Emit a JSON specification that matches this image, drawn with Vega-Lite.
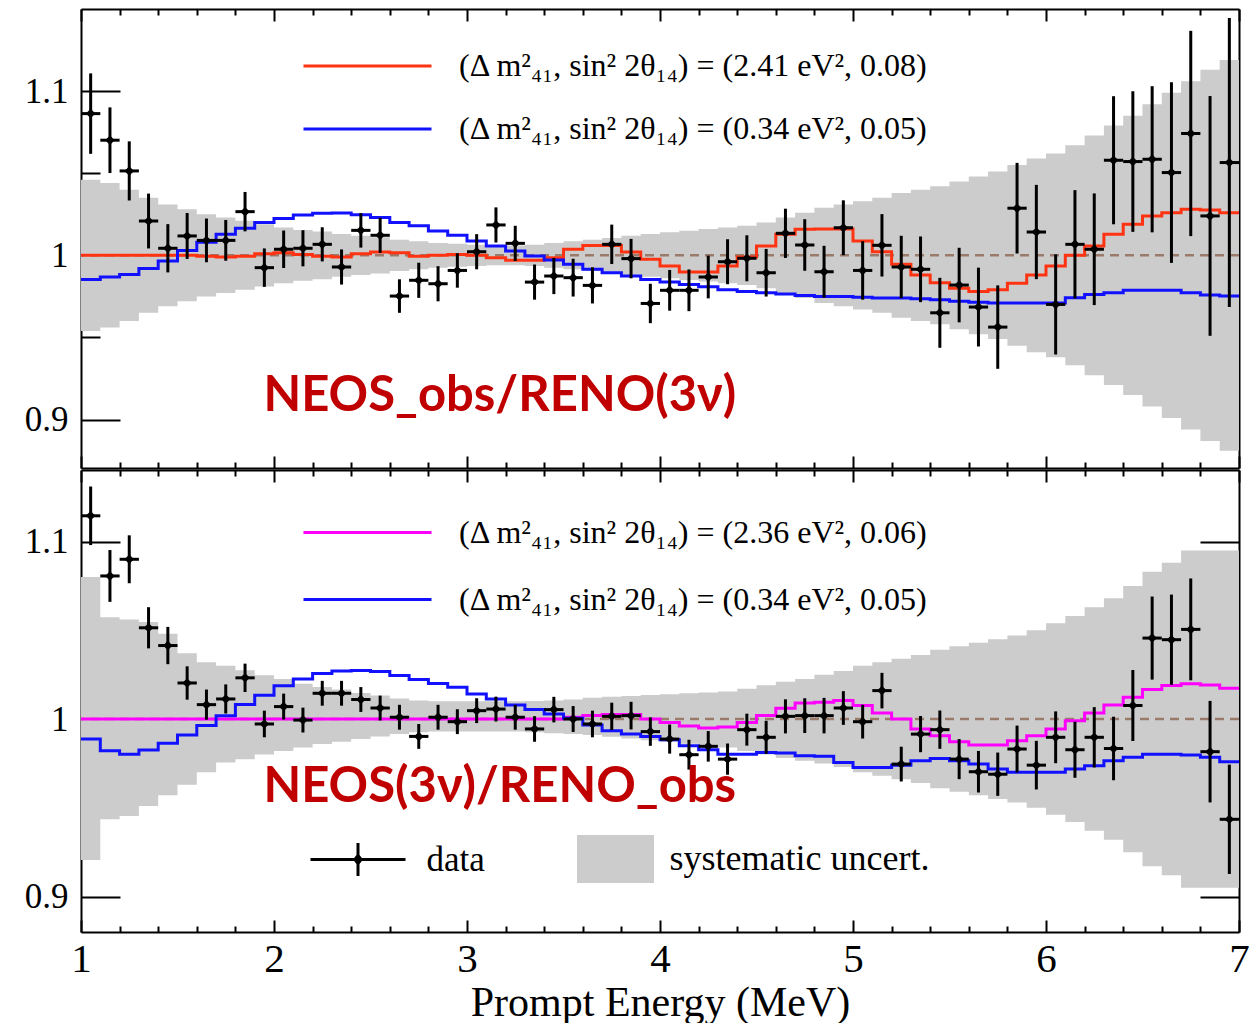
{
"$schema": "https://vega.github.io/schema/vega-lite/v6.json",
"background": "white",
"padding": {"left": 24, "top": 8, "right": 5, "bottom": 0},
"spacing": 0,
"datasets": {
"top_hist": [
{"e":1.0,"lo":0.954,"hi":1.046,"r":1.0,"b":0.9853},
{"e":1.1,"lo":0.956,"hi":1.044,"r":1.0,"b":0.9868},
{"e":1.2,"lo":0.96,"hi":1.04,"r":1.0,"b":0.9884},
{"e":1.3,"lo":0.965,"hi":1.035,"r":1.0,"b":0.992},
{"e":1.4,"lo":0.969,"hi":1.031,"r":1.0,"b":0.9965},
{"e":1.5,"lo":0.972,"hi":1.028,"r":1.0,"b":1.003},
{"e":1.6,"lo":0.975,"hi":1.025,"r":0.9995,"b":1.008},
{"e":1.7,"lo":0.977,"hi":1.023,"r":0.999,"b":1.0128},
{"e":1.8,"lo":0.979,"hi":1.021,"r":0.9995,"b":1.0165},
{"e":1.9,"lo":0.981,"hi":1.019,"r":1.001,"b":1.02},
{"e":2.0,"lo":0.983,"hi":1.017,"r":1.0015,"b":1.0225},
{"e":2.1,"lo":0.9845,"hi":1.0155,"r":1.0005,"b":1.0245},
{"e":2.2,"lo":0.9855,"hi":1.0145,"r":0.9995,"b":1.0257},
{"e":2.3,"lo":0.987,"hi":1.013,"r":0.999,"b":1.0258},
{"e":2.4,"lo":0.988,"hi":1.012,"r":1.001,"b":1.0247},
{"e":2.5,"lo":0.989,"hi":1.011,"r":1.002,"b":1.023},
{"e":2.6,"lo":0.9905,"hi":1.0095,"r":1.0015,"b":1.02},
{"e":2.7,"lo":0.9915,"hi":1.0085,"r":0.9995,"b":1.018},
{"e":2.8,"lo":0.9925,"hi":1.0075,"r":1.0,"b":1.0148},
{"e":2.9,"lo":0.993,"hi":1.007,"r":1.0005,"b":1.0122},
{"e":3.0,"lo":0.9935,"hi":1.0065,"r":1.0,"b":1.0087},
{"e":3.1,"lo":0.994,"hi":1.006,"r":0.9985,"b":1.0057},
{"e":3.2,"lo":0.994,"hi":1.006,"r":0.997,"b":1.0026},
{"e":3.3,"lo":0.9935,"hi":1.0065,"r":0.997,"b":0.9996},
{"e":3.4,"lo":0.9925,"hi":1.0075,"r":0.9985,"b":0.9971},
{"e":3.5,"lo":0.9915,"hi":1.0085,"r":1.0037,"b":0.9945},
{"e":3.6,"lo":0.9905,"hi":1.0095,"r":1.006,"b":0.9915},
{"e":3.7,"lo":0.9895,"hi":1.0105,"r":1.006,"b":0.9894},
{"e":3.8,"lo":0.988,"hi":1.012,"r":1.002,"b":0.9874},
{"e":3.9,"lo":0.987,"hi":1.013,"r":0.9976,"b":0.9853},
{"e":4.0,"lo":0.986,"hi":1.014,"r":0.9935,"b":0.9837},
{"e":4.1,"lo":0.985,"hi":1.015,"r":0.9898,"b":0.9823},
{"e":4.2,"lo":0.984,"hi":1.016,"r":0.9898,"b":0.9809},
{"e":4.3,"lo":0.983,"hi":1.017,"r":0.9935,"b":0.979},
{"e":4.4,"lo":0.982,"hi":1.018,"r":0.999,"b":0.978},
{"e":4.5,"lo":0.98,"hi":1.02,"r":1.0057,"b":0.9772},
{"e":4.6,"lo":0.977,"hi":1.023,"r":1.0128,"b":0.9765},
{"e":4.7,"lo":0.974,"hi":1.026,"r":1.0159,"b":0.9755},
{"e":4.8,"lo":0.971,"hi":1.029,"r":1.016,"b":0.975},
{"e":4.9,"lo":0.969,"hi":1.031,"r":1.016,"b":0.975},
{"e":5.0,"lo":0.967,"hi":1.033,"r":1.0087,"b":0.9745},
{"e":5.1,"lo":0.965,"hi":1.035,"r":1.0022,"b":0.974},
{"e":5.2,"lo":0.962,"hi":1.038,"r":0.9945,"b":0.974},
{"e":5.3,"lo":0.96,"hi":1.04,"r":0.988,"b":0.9735},
{"e":5.4,"lo":0.958,"hi":1.042,"r":0.9833,"b":0.973},
{"e":5.5,"lo":0.955,"hi":1.045,"r":0.98,"b":0.972},
{"e":5.6,"lo":0.952,"hi":1.048,"r":0.978,"b":0.9715},
{"e":5.7,"lo":0.949,"hi":1.051,"r":0.979,"b":0.971},
{"e":5.8,"lo":0.945,"hi":1.055,"r":0.983,"b":0.971},
{"e":5.9,"lo":0.941,"hi":1.059,"r":0.988,"b":0.971},
{"e":6.0,"lo":0.938,"hi":1.062,"r":0.9935,"b":0.971},
{"e":6.1,"lo":0.933,"hi":1.067,"r":1.0,"b":0.9742},
{"e":6.2,"lo":0.927,"hi":1.073,"r":1.0057,"b":0.9762},
{"e":6.3,"lo":0.921,"hi":1.079,"r":1.0128,"b":0.9772},
{"e":6.4,"lo":0.915,"hi":1.085,"r":1.019,"b":0.9787},
{"e":6.5,"lo":0.908,"hi":1.092,"r":1.024,"b":0.9787},
{"e":6.6,"lo":0.901,"hi":1.099,"r":1.026,"b":0.9787},
{"e":6.7,"lo":0.894,"hi":1.106,"r":1.028,"b":0.9772},
{"e":6.8,"lo":0.887,"hi":1.113,"r":1.0276,"b":0.9758},
{"e":6.9,"lo":0.881,"hi":1.119,"r":1.026,"b":0.9752},
{"e":7.0,"lo":0.881,"hi":1.119,"r":1.026,"b":0.9752}
],
"top_pts": [
{"E":1.05,"v":1.0863,"err":0.0245},{"E":1.15,"v":1.0701,"err":0.02},{"E":1.25,"v":1.0514,"err":0.018},{"E":1.35,"v":1.0209,"err":0.0167},{"E":1.45,"v":1.0043,"err":0.0147},
{"E":1.55,"v":1.0118,"err":0.014},{"E":1.65,"v":1.0091,"err":0.0133},{"E":1.75,"v":1.0091,"err":0.0124},{"E":1.85,"v":1.0266,"err":0.012},{"E":1.95,"v":0.9925,"err":0.0117},
{"E":2.05,"v":1.0037,"err":0.0114},{"E":2.15,"v":1.0043,"err":0.011},{"E":2.25,"v":1.0067,"err":0.0104},{"E":2.35,"v":0.9929,"err":0.0107},{"E":2.45,"v":1.0152,"err":0.0105},
{"E":2.55,"v":1.0122,"err":0.0107},{"E":2.65,"v":0.9752,"err":0.0102},{"E":2.75,"v":0.9848,"err":0.0107},{"E":2.85,"v":0.9827,"err":0.0107},{"E":2.95,"v":0.9908,"err":0.0105},
{"E":3.05,"v":1.0022,"err":0.0107},{"E":3.15,"v":1.0185,"err":0.0107},{"E":3.25,"v":1.0073,"err":0.0107},{"E":3.35,"v":0.9837,"err":0.0107},{"E":3.45,"v":0.9874,"err":0.011},
{"E":3.55,"v":0.9864,"err":0.0115},{"E":3.65,"v":0.9817,"err":0.011},{"E":3.75,"v":1.0067,"err":0.012},{"E":3.85,"v":0.998,"err":0.012},{"E":3.95,"v":0.9707,"err":0.012},
{"E":4.05,"v":0.9787,"err":0.0124},{"E":4.15,"v":0.9787,"err":0.0127},{"E":4.25,"v":0.9868,"err":0.013},{"E":4.35,"v":0.9961,"err":0.0137},{"E":4.45,"v":0.9982,"err":0.014},
{"E":4.55,"v":0.9894,"err":0.0145},{"E":4.65,"v":1.0134,"err":0.015},{"E":4.75,"v":1.0063,"err":0.0157},{"E":4.85,"v":0.99,"err":0.0158},{"E":4.95,"v":1.0168,"err":0.0167},
{"E":5.05,"v":0.9908,"err":0.0178},{"E":5.15,"v":1.0061,"err":0.019},{"E":5.25,"v":0.9929,"err":0.019},{"E":5.35,"v":0.9915,"err":0.02},{"E":5.45,"v":0.965,"err":0.0213},
{"E":5.55,"v":0.9819,"err":0.0227},{"E":5.65,"v":0.9685,"err":0.024},{"E":5.75,"v":0.9563,"err":0.0254},{"E":5.85,"v":1.0287,"err":0.0276},{"E":5.95,"v":1.0142,"err":0.0287},
{"E":6.05,"v":0.9701,"err":0.0305},{"E":6.15,"v":1.0067,"err":0.033},{"E":6.25,"v":1.0037,"err":0.034},{"E":6.35,"v":1.0579,"err":0.039},{"E":6.45,"v":1.0571,"err":0.0428},
{"E":6.55,"v":1.0585,"err":0.0445},{"E":6.65,"v":1.0504,"err":0.055},{"E":6.75,"v":1.0742,"err":0.0625},{"E":6.85,"v":1.024,"err":0.073},{"E":6.95,"v":1.0565,"err":0.088}
],
"bot_hist": [
{"e":1.0,"lo":0.9205,"hi":1.08,"m":1.0,"b":0.9887},
{"e":1.1,"lo":0.9435,"hi":1.0574,"m":1.0,"b":0.9821},
{"e":1.2,"lo":0.9454,"hi":1.056,"m":1.0,"b":0.9802},
{"e":1.3,"lo":0.951,"hi":1.0546,"m":1.0,"b":0.9825},
{"e":1.4,"lo":0.957,"hi":1.048,"m":1.0,"b":0.9863},
{"e":1.5,"lo":0.963,"hi":1.037,"m":1.0,"b":0.991},
{"e":1.6,"lo":0.97,"hi":1.032,"m":1.0,"b":0.9964},
{"e":1.7,"lo":0.9755,"hi":1.03,"m":1.0,"b":1.0019},
{"e":1.8,"lo":0.9774,"hi":1.0275,"m":1.0,"b":1.0082},
{"e":1.9,"lo":0.98,"hi":1.0247,"m":1.0,"b":1.0134},
{"e":2.0,"lo":0.982,"hi":1.0226,"m":1.0,"b":1.0187},
{"e":2.1,"lo":0.984,"hi":1.0198,"m":1.0,"b":1.0226},
{"e":2.2,"lo":0.9859,"hi":1.018,"m":1.0,"b":1.0257},
{"e":2.3,"lo":0.9872,"hi":1.0166,"m":1.0,"b":1.027},
{"e":2.4,"lo":0.9887,"hi":1.0147,"m":1.0,"b":1.0273},
{"e":2.5,"lo":0.9902,"hi":1.0132,"m":1.0,"b":1.0268},
{"e":2.6,"lo":0.9915,"hi":1.0115,"m":1.0,"b":1.0245},
{"e":2.7,"lo":0.9925,"hi":1.0105,"m":1.0,"b":1.0223},
{"e":2.8,"lo":0.993,"hi":1.01,"m":1.0,"b":1.02},
{"e":2.9,"lo":0.993,"hi":1.01,"m":1.0,"b":1.0179},
{"e":3.0,"lo":0.993,"hi":1.01,"m":1.0,"b":1.0141},
{"e":3.1,"lo":0.993,"hi":1.01,"m":1.0,"b":1.0113},
{"e":3.2,"lo":0.993,"hi":1.01,"m":1.0,"b":1.0079},
{"e":3.3,"lo":0.9925,"hi":1.0102,"m":1.0,"b":1.0053},
{"e":3.4,"lo":0.992,"hi":1.0105,"m":1.0,"b":1.0028},
{"e":3.5,"lo":0.9915,"hi":1.011,"m":1.001,"b":1.0004},
{"e":3.6,"lo":0.991,"hi":1.012,"m":1.002,"b":0.9966},
{"e":3.7,"lo":0.99,"hi":1.0125,"m":1.0025,"b":0.9934},
{"e":3.8,"lo":0.989,"hi":1.013,"m":1.0025,"b":0.9915},
{"e":3.9,"lo":0.988,"hi":1.0135,"m":1.0,"b":0.9902},
{"e":4.0,"lo":0.987,"hi":1.014,"m":0.998,"b":0.9883},
{"e":4.1,"lo":0.986,"hi":1.0145,"m":0.996,"b":0.985},
{"e":4.2,"lo":0.985,"hi":1.015,"m":0.995,"b":0.9827},
{"e":4.3,"lo":0.984,"hi":1.0155,"m":0.9955,"b":0.9802},
{"e":4.4,"lo":0.982,"hi":1.017,"m":0.998,"b":0.9802},
{"e":4.5,"lo":0.98,"hi":1.019,"m":1.002,"b":0.9812},
{"e":4.6,"lo":0.978,"hi":1.021,"m":1.006,"b":0.9808},
{"e":4.7,"lo":0.9765,"hi":1.0225,"m":1.009,"b":0.9793},
{"e":4.8,"lo":0.975,"hi":1.025,"m":1.0095,"b":0.979},
{"e":4.9,"lo":0.973,"hi":1.027,"m":1.0104,"b":0.9755},
{"e":5.0,"lo":0.97,"hi":1.03,"m":1.0076,"b":0.9727},
{"e":5.1,"lo":0.968,"hi":1.032,"m":1.0034,"b":0.9727},
{"e":5.2,"lo":0.966,"hi":1.034,"m":1.0,"b":0.974},
{"e":5.3,"lo":0.964,"hi":1.036,"m":0.9944,"b":0.9765},
{"e":5.4,"lo":0.961,"hi":1.039,"m":0.9906,"b":0.9778},
{"e":5.5,"lo":0.959,"hi":1.041,"m":0.9872,"b":0.9765},
{"e":5.6,"lo":0.957,"hi":1.043,"m":0.9853,"b":0.9746},
{"e":5.7,"lo":0.955,"hi":1.045,"m":0.9853,"b":0.9718},
{"e":5.8,"lo":0.953,"hi":1.047,"m":0.9878,"b":0.97},
{"e":5.9,"lo":0.95,"hi":1.05,"m":0.9906,"b":0.97},
{"e":6.0,"lo":0.946,"hi":1.054,"m":0.9944,"b":0.97},
{"e":6.1,"lo":0.942,"hi":1.058,"m":0.999,"b":0.9718},
{"e":6.2,"lo":0.937,"hi":1.063,"m":1.0034,"b":0.9737},
{"e":6.3,"lo":0.932,"hi":1.068,"m":1.0079,"b":0.9765},
{"e":6.4,"lo":0.925,"hi":1.075,"m":1.0123,"b":0.9784},
{"e":6.5,"lo":0.917,"hi":1.083,"m":1.0166,"b":0.9802},
{"e":6.6,"lo":0.912,"hi":1.088,"m":1.0189,"b":0.9802},
{"e":6.7,"lo":0.905,"hi":1.095,"m":1.0198,"b":0.9797},
{"e":6.8,"lo":0.905,"hi":1.095,"m":1.0192,"b":0.9784},
{"e":6.9,"lo":0.905,"hi":1.095,"m":1.0173,"b":0.9759},
{"e":7.0,"lo":0.905,"hi":1.095,"m":1.0173,"b":0.9759}
],
"bot_pts": [
{"E":1.05,"v":1.1145,"err":0.0165},{"E":1.15,"v":1.0806,"err":0.0146},{"E":1.25,"v":1.09,"err":0.0135},{"E":1.35,"v":1.0514,"err":0.0116},{"E":1.45,"v":1.0414,"err":0.0105},
{"E":1.55,"v":1.0203,"err":0.0094},{"E":1.65,"v":1.0081,"err":0.0085},{"E":1.75,"v":1.0113,"err":0.0082},{"E":1.85,"v":1.0232,"err":0.008},{"E":1.95,"v":0.9972,"err":0.0075},
{"E":2.05,"v":1.007,"err":0.0073},{"E":2.15,"v":0.9994,"err":0.007},{"E":2.25,"v":1.0145,"err":0.007},{"E":2.35,"v":1.0145,"err":0.007},{"E":2.45,"v":1.011,"err":0.007},
{"E":2.55,"v":1.0062,"err":0.007},{"E":2.65,"v":1.001,"err":0.007},{"E":2.75,"v":0.9902,"err":0.007},{"E":2.85,"v":1.001,"err":0.007},{"E":2.95,"v":0.9985,"err":0.007},
{"E":3.05,"v":1.0047,"err":0.007},{"E":3.15,"v":1.0056,"err":0.007},{"E":3.25,"v":1.001,"err":0.007},{"E":3.35,"v":0.9944,"err":0.0072},{"E":3.45,"v":1.0053,"err":0.0072},
{"E":3.55,"v":1.0,"err":0.0073},{"E":3.65,"v":0.9972,"err":0.0075},{"E":3.75,"v":1.0015,"err":0.0077},{"E":3.85,"v":1.0019,"err":0.0078},{"E":3.95,"v":0.9929,"err":0.008},
{"E":4.05,"v":0.9887,"err":0.0082},{"E":4.15,"v":0.9799,"err":0.0084},{"E":4.25,"v":0.9846,"err":0.0086},{"E":4.35,"v":0.9774,"err":0.0088},{"E":4.45,"v":0.994,"err":0.009},
{"E":4.55,"v":0.9897,"err":0.0093},{"E":4.65,"v":1.0015,"err":0.0096},{"E":4.75,"v":1.0019,"err":0.0098},{"E":4.85,"v":1.0019,"err":0.01},{"E":4.95,"v":1.0062,"err":0.0095},
{"E":5.05,"v":0.9985,"err":0.0095},{"E":5.15,"v":1.016,"err":0.01},{"E":5.25,"v":0.9746,"err":0.0098},{"E":5.35,"v":0.9915,"err":0.0102},{"E":5.45,"v":0.994,"err":0.0108},
{"E":5.55,"v":0.9774,"err":0.0113},{"E":5.65,"v":0.9703,"err":0.0117},{"E":5.75,"v":0.9689,"err":0.0122},{"E":5.85,"v":0.9831,"err":0.0132},{"E":5.95,"v":0.974,"err":0.0137},
{"E":6.05,"v":0.9897,"err":0.0146},{"E":6.15,"v":0.9827,"err":0.0158},{"E":6.25,"v":0.9897,"err":0.017},{"E":6.35,"v":0.9834,"err":0.0179},{"E":6.45,"v":1.0076,"err":0.02},
{"E":6.55,"v":1.0456,"err":0.0234},{"E":6.65,"v":1.0447,"err":0.0254},{"E":6.75,"v":1.0505,"err":0.0287},{"E":6.85,"v":0.9816,"err":0.0286},{"E":6.95,"v":0.9435,"err":0.0308}
]
},
"vconcat": [
{
"width": 1158, "height": 459,
"resolve": {"axis": {"x": "independent", "y": "independent"}},
"layer": [
{"data": {"name": "top_hist"},
 "mark": {"type": "area", "interpolate": "step-after", "color": "#cccccc"},
 "encoding": {
  "x": {"field": "e", "type": "quantitative", "scale": {"domain": [1, 7], "nice": false, "zero": false},
        "axis": {"orient": "bottom", "values": [1,2,3,4,5,6,7], "labels": false, "tickSize": -12, "domain": true, "title": null}},
  "y": {"field": "lo", "type": "quantitative", "scale": {"domain": [0.8705, 1.15], "nice": false, "zero": false},
        "axis": {"orient": "left", "values": [0.9, 1, 1.1], "format": "~g", "tickSize": -39, "labelPadding": 52, "labelFontSize": 35, "domain": true, "title": null}},
  "y2": {"field": "hi"}}},
{"data": {"values": [{}]},
 "mark": {"type": "rule", "color": "#9a7b6b", "strokeWidth": 2.5, "strokeDash": [9, 6]},
 "encoding": {"y": {"datum": 1, "type": "quantitative", "scale": {"domain": [0.8705, 1.15], "nice": false, "zero": false}, "axis": null}}},
{"data": {"name": "top_hist"},
 "mark": {"type": "line", "interpolate": "step-after", "strokeWidth": 3},
 "encoding": {
  "x": {"field": "e", "type": "quantitative", "scale": {"domain": [1, 7], "nice": false, "zero": false},
        "axis": {"orient": "bottom", "values": [1.2,1.4,1.6,1.8,2.2,2.4,2.6,2.8,3.2,3.4,3.6,3.8,4.2,4.4,4.6,4.8,5.2,5.4,5.6,5.8,6.2,6.4,6.6,6.8], "labels": false, "tickSize": -6, "domain": false, "title": null}},
  "y": {"field": "r", "type": "quantitative", "scale": {"domain": [0.8705, 1.15], "nice": false, "zero": false},
        "axis": {"orient": "left", "values": [0.95, 1.05], "labels": false, "tickSize": -19, "domain": false, "title": null}},
  "stroke": {"datum": "(Δ m²₄₁, sin² 2θ₁₄) = (2.41 eV², 0.08)", "type": "nominal",
        "scale": {"domain": ["(Δ m²₄₁, sin² 2θ₁₄) = (2.41 eV², 0.08)", "(Δ m²₄₁, sin² 2θ₁₄) = (0.34 eV², 0.05)"], "range": ["#ff3311", "#1111ff"]},
        "legend": {"orient": "none", "legendX": 270.5, "legendY": 41, "title": null, "symbolType": "M-12.8,0H12.8", "symbolSize": 100, "symbolStrokeWidth": 3, "labelFontSize": 32, "labelOffset": 75.5, "rowPadding": 31, "padding": 0}}}},
{"data": {"name": "top_hist"},
 "mark": {"type": "line", "interpolate": "step-after", "strokeWidth": 3},
 "encoding": {
  "x": {"field": "e", "type": "quantitative", "scale": {"domain": [1, 7], "nice": false, "zero": false},
        "axis": {"orient": "top", "values": [1,2,3,4,5,6,7], "labels": false, "tickSize": -12, "domain": true, "title": null}},
  "y": {"field": "b", "type": "quantitative", "scale": {"domain": [0.8705, 1.15], "nice": false, "zero": false},
        "axis": {"orient": "right", "values": [0.9, 1, 1.1], "labels": false, "tickSize": -39, "domain": true, "title": null}},
  "stroke": {"datum": "(Δ m²₄₁, sin² 2θ₁₄) = (0.34 eV², 0.05)", "type": "nominal"}}},
{"data": {"name": "top_pts"},
 "mark": {"type": "errorbar", "color": "black", "thickness": 3},
 "encoding": {
  "x": {"field": "E", "type": "quantitative", "scale": {"domain": [1, 7], "nice": false, "zero": false}, "axis": null},
  "y": {"field": "v", "type": "quantitative", "scale": {"domain": [0.8705, 1.15], "nice": false, "zero": false}, "axis": null},
  "yError": {"field": "err"}}},
{"data": {"name": "top_pts"},
 "mark": {"type": "tick", "orient": "horizontal", "size": 19.3, "thickness": 3, "color": "black", "opacity": 1},
 "encoding": {
  "x": {"field": "E", "type": "quantitative", "scale": {"domain": [1, 7], "nice": false, "zero": false}, "axis": null},
  "y": {"field": "v", "type": "quantitative", "scale": {"domain": [0.8705, 1.15], "nice": false, "zero": false}, "axis": null}}},
{"data": {"name": "top_pts"},
 "mark": {"type": "point", "shape": "diamond", "filled": true, "color": "black", "opacity": 1, "size": 90},
 "encoding": {
  "x": {"field": "E", "type": "quantitative", "scale": {"domain": [1, 7], "nice": false, "zero": false},
        "axis": {"orient": "top", "values": [1.2,1.4,1.6,1.8,2.2,2.4,2.6,2.8,3.2,3.4,3.6,3.8,4.2,4.4,4.6,4.8,5.2,5.4,5.6,5.8,6.2,6.4,6.6,6.8], "labels": false, "tickSize": -6, "domain": false, "title": null}},
  "y": {"field": "v", "type": "quantitative", "scale": {"domain": [0.8705, 1.15], "nice": false, "zero": false},
        "axis": {"orient": "right", "values": [0.95, 1.05], "labels": false, "tickSize": -19, "domain": false, "title": null}}}},
{"data": {"values": [{"label": "NEOS_obs/RENO(3ν)"}]},
 "mark": {"type": "text", "align": "left", "baseline": "alphabetic", "font": "Lato", "fontWeight": "bold", "fontSize": 49, "color": "#c00000"},
 "encoding": {
  "x": {"datum": 1.945, "type": "quantitative", "scale": {"domain": [1, 7], "nice": false, "zero": false}, "axis": null},
  "y": {"datum": 0.905, "type": "quantitative", "scale": {"domain": [0.8705, 1.15], "nice": false, "zero": false}, "axis": null},
  "text": {"field": "label"}}}
]
},
{
"width": 1158, "height": 462,
"resolve": {"axis": {"x": "independent", "y": "independent"}},
"layer": [
{"data": {"name": "bot_hist"},
 "mark": {"type": "area", "interpolate": "step-after"},
 "encoding": {
  "x": {"field": "e", "type": "quantitative", "scale": {"domain": [1, 7], "nice": false, "zero": false},
        "axis": {"orient": "bottom", "values": [1,2,3,4,5,6,7], "format": "d", "tickSize": -12, "labelPadding": 19, "labelFontSize": 41, "domain": true,
                 "title": "Prompt Energy (MeV)", "titleFont": "Liberation Serif", "titleFontSize": 42, "titleFontWeight": "normal", "titleColor": "black", "titlePadding": 3}},
  "y": {"field": "lo", "type": "quantitative", "scale": {"domain": [0.88, 1.1403], "nice": false, "zero": false},
        "axis": {"orient": "left", "values": [0.9, 1, 1.1], "format": "~g", "tickSize": -39, "labelPadding": 52, "labelFontSize": 35, "domain": true, "title": null}},
  "y2": {"field": "hi"},
  "fill": {"datum": "systematic uncert.", "type": "nominal", "scale": {"domain": ["systematic uncert."], "range": ["#cccccc"]},
        "legend": {"orient": "none", "legendX": 516.5, "legendY": 371, "title": null, "symbolType": "M-7.7,-4.8H7.7V4.8H-7.7Z", "symbolSize": 100, "symbolStrokeWidth": 0, "labelFontSize": 36, "labelOffset": 36, "padding": 0}}}},
{"data": {"values": [{}]},
 "mark": {"type": "rule", "color": "#9a7b6b", "strokeWidth": 2.5, "strokeDash": [9, 6]},
 "encoding": {"y": {"datum": 1, "type": "quantitative", "scale": {"domain": [0.88, 1.1403], "nice": false, "zero": false}, "axis": null}}},
{"data": {"name": "bot_hist"},
 "mark": {"type": "line", "interpolate": "step-after", "strokeWidth": 3},
 "encoding": {
  "x": {"field": "e", "type": "quantitative", "scale": {"domain": [1, 7], "nice": false, "zero": false},
        "axis": {"orient": "bottom", "values": [1.2,1.4,1.6,1.8,2.2,2.4,2.6,2.8,3.2,3.4,3.6,3.8,4.2,4.4,4.6,4.8,5.2,5.4,5.6,5.8,6.2,6.4,6.6,6.8], "labels": false, "tickSize": -6, "domain": false, "title": null}},
  "y": {"field": "m", "type": "quantitative", "scale": {"domain": [0.88, 1.1403], "nice": false, "zero": false},
        "axis": {"orient": "left", "values": [0.95, 1.05], "labels": false, "tickSize": -19, "domain": false, "title": null}},
  "stroke": {"datum": "(Δ m²₄₁, sin² 2θ₁₄) = (2.36 eV², 0.06)", "type": "nominal",
        "scale": {"domain": ["(Δ m²₄₁, sin² 2θ₁₄) = (2.36 eV², 0.06)", "(Δ m²₄₁, sin² 2θ₁₄) = (0.34 eV², 0.05)"], "range": ["#ff00ff", "#1111ff"]},
        "legend": {"orient": "none", "legendX": 270.5, "legendY": 46.5, "title": null, "symbolType": "M-12.8,0H12.8", "symbolSize": 100, "symbolStrokeWidth": 3, "labelFontSize": 32, "labelOffset": 75.5, "rowPadding": 35, "padding": 0}}}},
{"data": {"name": "bot_hist"},
 "mark": {"type": "line", "interpolate": "step-after", "strokeWidth": 3},
 "encoding": {
  "x": {"field": "e", "type": "quantitative", "scale": {"domain": [1, 7], "nice": false, "zero": false},
        "axis": {"orient": "top", "values": [1,2,3,4,5,6,7], "labels": false, "tickSize": -12, "domain": true, "title": null}},
  "y": {"field": "b", "type": "quantitative", "scale": {"domain": [0.88, 1.1403], "nice": false, "zero": false},
        "axis": {"orient": "right", "values": [0.9, 1, 1.1], "labels": false, "tickSize": -39, "domain": true, "title": null}},
  "stroke": {"datum": "(Δ m²₄₁, sin² 2θ₁₄) = (0.34 eV², 0.05)", "type": "nominal"}}},
{"data": {"name": "bot_pts"},
 "mark": {"type": "errorbar", "color": "black", "thickness": 3},
 "encoding": {
  "x": {"field": "E", "type": "quantitative", "scale": {"domain": [1, 7], "nice": false, "zero": false}, "axis": null},
  "y": {"field": "v", "type": "quantitative", "scale": {"domain": [0.88, 1.1403], "nice": false, "zero": false}, "axis": null},
  "yError": {"field": "err"}}},
{"data": {"name": "bot_pts"},
 "mark": {"type": "tick", "orient": "horizontal", "size": 19.3, "thickness": 3, "color": "black", "opacity": 1},
 "encoding": {
  "x": {"field": "E", "type": "quantitative", "scale": {"domain": [1, 7], "nice": false, "zero": false}, "axis": null},
  "y": {"field": "v", "type": "quantitative", "scale": {"domain": [0.88, 1.1403], "nice": false, "zero": false}, "axis": null}}},
{"data": {"name": "bot_pts"},
 "mark": {"type": "point", "shape": "diamond", "filled": true, "color": "black", "opacity": 1, "size": 90},
 "encoding": {
  "x": {"field": "E", "type": "quantitative", "scale": {"domain": [1, 7], "nice": false, "zero": false},
        "axis": {"orient": "top", "values": [1.2,1.4,1.6,1.8,2.2,2.4,2.6,2.8,3.2,3.4,3.6,3.8,4.2,4.4,4.6,4.8,5.2,5.4,5.6,5.8,6.2,6.4,6.6,6.8], "labels": false, "tickSize": -6, "domain": false, "title": null}},
  "y": {"field": "v", "type": "quantitative", "scale": {"domain": [0.88, 1.1403], "nice": false, "zero": false},
        "axis": {"orient": "right", "values": [0.95, 1.05], "labels": false, "tickSize": -19, "domain": false, "title": null}}}},
{"data": {"name": "bot_pts"},
 "transform": [{"filter": "false"}],
 "mark": {"type": "point", "filled": true, "color": "black", "opacity": 1},
 "encoding": {
  "shape": {"datum": "data", "type": "nominal",
        "scale": {"domain": ["data"], "range": ["M-9.5,-0.3H9.5V0.3H-9.5ZM-0.3,-3.3H0.3V3.3H-0.3ZM0,-1.3L1,0L0,1.3L-1,0Z"]},
        "legend": {"orient": "none", "legendX": 259.5, "legendY": 372, "title": null, "symbolSize": 100, "symbolFillColor": "black", "symbolStrokeColor": "black", "symbolStrokeWidth": 0, "labelFontSize": 35, "labelOffset": 51, "padding": 0}}}},
{"data": {"values": [{"label": "NEOS(3ν)/RENO_obs"}]},
 "mark": {"type": "text", "align": "left", "baseline": "alphabetic", "font": "Lato", "fontWeight": "bold", "fontSize": 49, "color": "#c00000"},
 "encoding": {
  "x": {"datum": 1.945, "type": "quantitative", "scale": {"domain": [1, 7], "nice": false, "zero": false}, "axis": null},
  "y": {"datum": 0.953, "type": "quantitative", "scale": {"domain": [0.88, 1.1403], "nice": false, "zero": false}, "axis": null},
  "text": {"field": "label"}}}
]
}
],
"resolve": {
 "scale": {"x": "independent", "y": "independent", "stroke": "independent", "fill": "independent", "shape": "independent"},
 "legend": {"stroke": "independent", "fill": "independent", "shape": "independent"}
},
"config": {
 "view": {"stroke": null},
 "axis": {"grid": false, "tickColor": "black", "tickWidth": 2, "domainColor": "black", "domainWidth": 2, "labelColor": "black", "labelFont": "Liberation Serif", "zindex": 1, "labelFlush": false, "labelOverlap": false},
 "legend": {"labelFont": "Liberation Serif", "labelColor": "black", "labelLimit": 0, "padding": 0}
}
}
